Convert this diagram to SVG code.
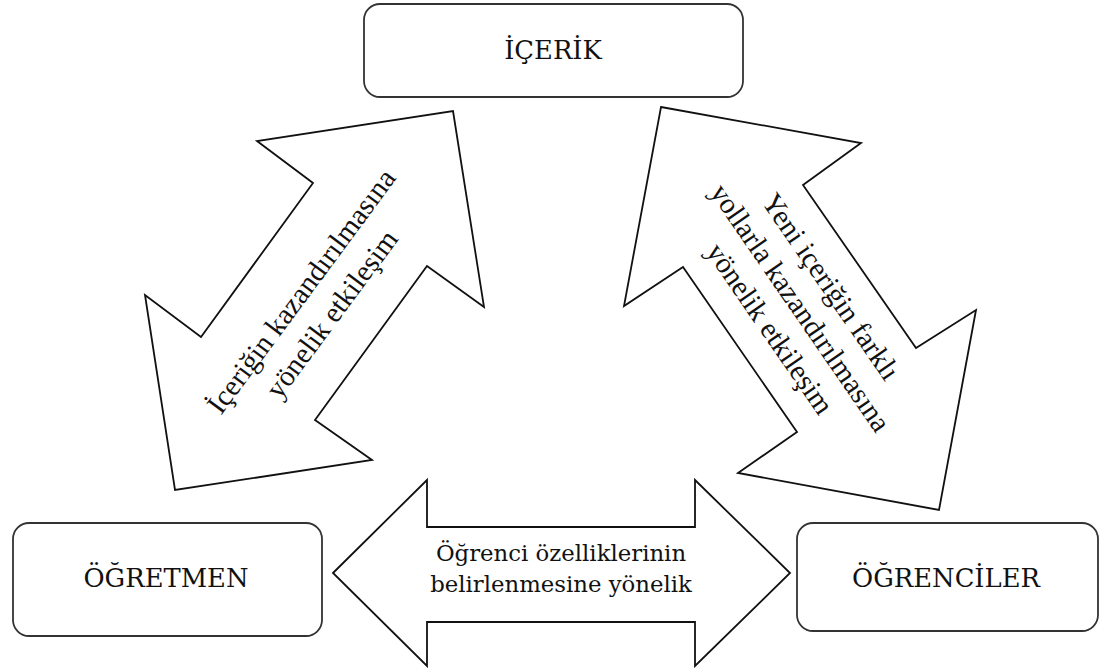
<svg xmlns="http://www.w3.org/2000/svg" width="1101" height="668" viewBox="0 0 1101 668">
  <style>
    .box { fill: #fff; stroke: #333; stroke-width: 1.8; }
    .arrow { fill: #fff; stroke: #111; stroke-width: 1.8; stroke-linejoin: miter; }
    .label { font-family: "DejaVu Serif", "Liberation Serif", serif; font-size: 25.8px; fill: #111; text-anchor: middle; }
    .mid { font-family: "DejaVu Serif", "Liberation Serif", serif; font-size: 22.8px; fill: #111; text-anchor: middle; }
    .diag { font-family: "Liberation Serif", "Times New Roman", serif; font-size: 29px; fill: #111; text-anchor: middle; }
  </style>
  <rect width="1101" height="668" fill="#fff"/>

  <!-- double-headed block arrows between the three actors -->
  <g id="connectors">
    <g id="arrow-content-teacher">
      <polygon class="arrow" points="453,111 484,307 427,266 315,420 372,460 175,490 145,295 201,337 313,183 257,141"/>
      <g transform="translate(317,303) rotate(-53.5)">
        <text class="diag" x="0" y="-10">İçeriğin  kazandırılmasına</text>
        <text class="diag" x="0" y="28">yönelik  etkileşim</text>
      </g>
    </g>
    <g id="arrow-content-students">
      <polygon class="arrow" points="661,107 861,143 803,185 916,348 976,310 939,510 738,473 797,432 683,267 624,306"/>
      <g transform="translate(800,308) rotate(55.4)">
        <text class="diag" x="0" y="-28">Yeni  içeriğin  farklı</text>
        <text class="diag" x="0" y="9">yollarla  kazandırılmasına</text>
        <text class="diag" x="0" y="46">yönelik  etkileşim</text>
      </g>
    </g>
    <g id="arrow-teacher-students">
      <polygon class="arrow" points="333,573 427,480 427,527 695,527 695,480 790,573 695,666 695,622 427,622 427,666"/>
      <text class="mid" x="561" y="561">Öğrenci özelliklerinin</text>
      <text class="mid" x="561" y="592">belirlenmesine yönelik</text>
    </g>
  </g>

  <g id="node-icerik">
    <rect class="box" x="364" y="4" width="379" height="93" rx="16"/>
    <text class="label" x="553" y="59">İÇERİK</text>
  </g>
  <g id="node-ogretmen">
    <rect class="box" x="13" y="523" width="309" height="113" rx="16"/>
    <text class="label" x="166" y="587">ÖĞRETMEN</text>
  </g>
  <g id="node-ogrenciler">
    <rect class="box" x="797" y="523" width="301" height="108" rx="16"/>
    <text class="label" x="946" y="587">ÖĞRENCİLER</text>
  </g>
</svg>
